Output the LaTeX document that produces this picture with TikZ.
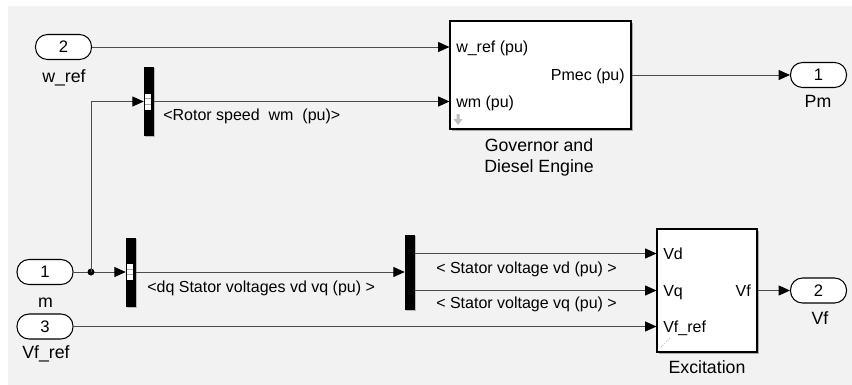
\documentclass[tikz,border=0pt]{standalone}
\usepackage{fontspec}
\setmainfont{Liberation Sans}
\usetikzlibrary{arrows.meta,shadows}

\begin{document}
\begin{tikzpicture}[x=0.75pt,y=-0.75pt,
  port/.style={draw,fill=white,line width=0.8pt,rounded corners=9pt,minimum width=42pt,minimum height=18.75pt,inner sep=0pt,font=\fontsize{12.5}{14}\selectfont},
  blk/.style={draw,fill=white,line width=0.8pt,inner sep=0pt,drop shadow={shadow xshift=1.3pt,shadow yshift=-1.3pt,fill=black!60,opacity=0.5}},
  bar/.style={fill=black,inner sep=0pt,minimum width=7.5pt,drop shadow={shadow xshift=1pt,shadow yshift=-1pt,fill=black!60,opacity=0.4}},
  lbl/.style={inner sep=0pt,font=\fontsize{12}{14}\selectfont,text height=8.6pt,text depth=0pt},
  bname/.style={inner sep=0pt,font=\fontsize{13.3}{15.75}\selectfont},
  sig/.style={draw=black!70,line width=0.7pt,-{Triangle[length=8.5pt,width=7.5pt,color=black]}}
]
  \useasboundingbox (0,0) rectangle (852,385);
  \fill[white] (0,0) rectangle (852,385);
  \fill[black!5] (8,6) rectangle (852,385);

  % in- and outports
  \node[port] (wref) at (63.5,47) {2};
  \node[port] (mIn) at (45,272) {1};
  \node[port] (vfrefIn) at (45,326.5) {3};
  \node[port] (pmOut) at (818.5,75) {1};
  \node[port] (vfOut) at (818.5,290.5) {2};
  \node[bname,anchor=base] (wrefName) at (64,82) {w\_ref};
  \node[bname,anchor=base] (mName) at (45.5,307) {m};
  \node[bname,anchor=base] (vfrefName) at (46,358) {Vf\_ref};
  \node[bname,anchor=base] (pmName) at (818,108) {Pm};
  \node[bname,anchor=base] (vfName) at (820,324) {Vf};

  % governor
  \node[blk,minimum width=135.75pt,minimum height=81pt] (gov) at (540.5,75) {};
  \node[lbl,anchor=west] (govWref) at (456,47) {w\_ref (pu)};
  \node[lbl,anchor=west] (govWm) at (456,101.5) {wm (pu)};
  \node[lbl,anchor=east] (govPmec) at (625,75) {Pmec (pu)};
  \node[bname,anchor=north,align=center] (govName) at (539,138.5) {Governor and\\Diesel Engine};
  \fill[black!25] (456.5,114) rectangle (459.5,119) (453.5,119) -- (462.5,119) -- (458,125) -- cycle;

  % excitation
  \node[blk,minimum width=75pt,minimum height=92.25pt] (exc) at (707,290.5) {};
  \node[lbl,anchor=west] (excVd) at (663,253.5) {Vd};
  \node[lbl,anchor=west] (excVq) at (663,290.5) {Vq};
  \node[lbl,anchor=west] (excVfref) at (663,326.5) {Vf\_ref};
  \node[lbl,anchor=east] (excVf) at (751,290.5) {Vf};
  \node[bname,anchor=base] (excName) at (707,373) {Excitation};
  \draw[black!30,line width=0.6pt,densely dotted] (661,347) -- (665,343) (666,342) -- (670,338);

  % mux / demux
  \node[bar,minimum height=51.75pt] (mux1) at (149,101.5) {};
  \node[bar,minimum height=51.75pt] (mux2) at (131,272) {};
  \node[bar,minimum height=56.25pt] (demux) at (410,272) {};
  \foreach \m in {mux1,mux2}{
    \fill[white] ([shift={(1,-8)}]\m.west) rectangle ([shift={(7.5,8)}]\m.west);
    \draw[black!35,line width=0.6pt] ([shift={(1,-2.7)}]\m.west) -- ++(6.5,0)
      ([shift={(1,2.7)}]\m.west) -- ++(6.5,0);
  }

  % signals
  \coordinate (J) at (91,272);
  \draw[sig] (wref) -- (wref -| gov.west);
  \draw[sig] (mIn) -- (mux2);
  \fill (J) circle (3.5);
  \draw[sig] (J) |- (mux1);
  \draw[sig] (mux1) -- (mux1 -| gov.west);
  \draw[sig] (gov) -- (pmOut);
  \draw[sig] (mux2) -- (demux);
  \draw[sig] (demux.east |- excVd) -- (excVd -| exc.west);
  \draw[sig] (demux.east |- excVq) -- (excVq -| exc.west);
  \draw[sig] (vfrefIn) -- (vfrefIn -| exc.west);
  \draw[sig] (exc) -- (vfOut);

  \node[lbl,anchor=west] (rotorLbl) at (163,115) {<Rotor speed\ \ wm\ \ (pu)>};
  \node[lbl,anchor=west] (dqLbl) at (147,287) {<dq Stator voltages vd vq (pu) >};
  \node[lbl,anchor=west] (vdLbl) at (436,268) {< Stator voltage vd (pu) >};
  \node[lbl,anchor=west] (vqLbl) at (436,303) {< Stator voltage vq (pu) >};
\end{tikzpicture}
\end{document}
